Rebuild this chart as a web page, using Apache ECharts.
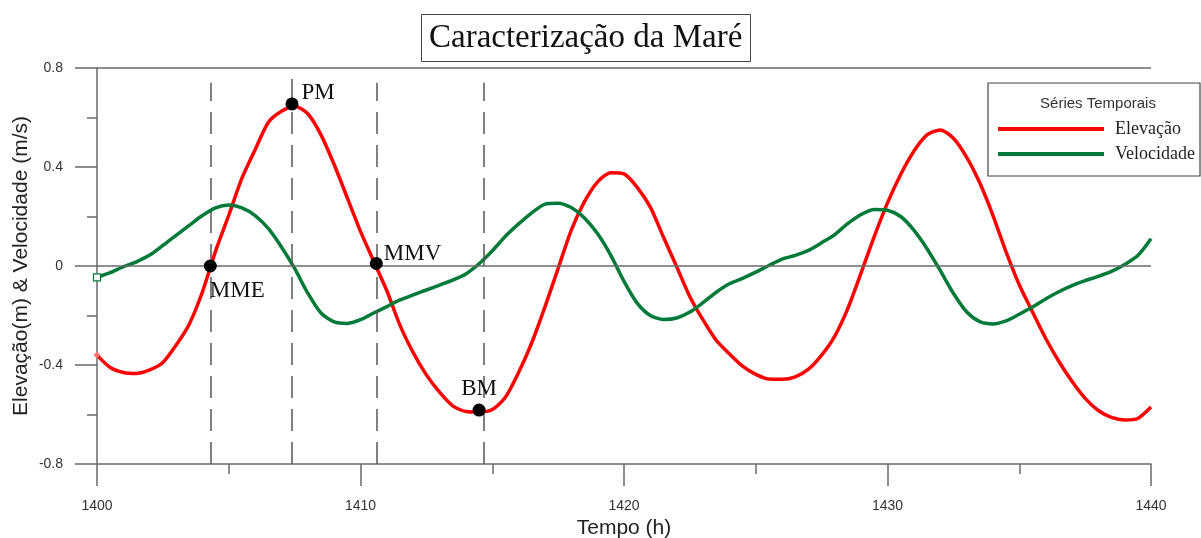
<!DOCTYPE html>
<html>
<head>
<meta charset="utf-8">
<script src="https://cdn.jsdelivr.net/npm/echarts@6/dist/echarts.min.js"></script>
<style>
html,body{margin:0;padding:0;background:#fff;}
#chart{width:1201px;height:538px;}
</style>
</head>
<body>
<div id="chart"></div>
<script>
// ---- data ----
const hours = Array.from({length: 81}, (_, i) => 1400 + i * 0.5);
const elevacao = [
  -0.36, -0.41, -0.43, -0.434, -0.42, -0.39, -0.32, -0.235, -0.105, 0.06,
  0.205, 0.355, 0.47, 0.58, 0.625, 0.645, 0.615, 0.53, 0.41, 0.275,
  0.14, 0.02, -0.10, -0.24, -0.35, -0.44, -0.51, -0.565, -0.588, -0.59,
  -0.58, -0.53, -0.43, -0.31, -0.165, -0.01, 0.145, 0.26, 0.34, 0.377,
  0.372, 0.318, 0.238, 0.116, -0.003, -0.124, -0.218, -0.30, -0.355, -0.405,
  -0.438, -0.457, -0.458, -0.448, -0.417, -0.36, -0.283, -0.17, -0.027, 0.12,
  0.255, 0.37, 0.464, 0.53, 0.55, 0.516, 0.44, 0.336, 0.205, 0.057,
  -0.076, -0.185, -0.292, -0.385, -0.466, -0.535, -0.584, -0.612, -0.622, -0.616,
  -0.57
];
const velocidade = [
  -0.046, -0.027, -0.003, 0.017, 0.044, 0.083, 0.124, 0.164, 0.204, 0.235,
  0.246, 0.235, 0.204, 0.152, 0.077, -0.01, -0.11, -0.19, -0.226, -0.232,
  -0.217, -0.19, -0.164, -0.137, -0.117, -0.097, -0.077, -0.057, -0.032, 0.009,
  0.061, 0.12, 0.17, 0.215, 0.25, 0.254, 0.236, 0.194, 0.13, 0.043,
  -0.062, -0.15, -0.2, -0.216, -0.21, -0.186, -0.148, -0.106, -0.072, -0.05,
  -0.025, 0.002, 0.028, 0.043, 0.063, 0.094, 0.127, 0.172, 0.208, 0.228,
  0.225, 0.2, 0.145, 0.07, -0.018, -0.11, -0.185, -0.225, -0.234, -0.222,
  -0.195, -0.166, -0.133, -0.104, -0.079, -0.059, -0.042, -0.022, 0.006, 0.042,
  0.11
];
const pointNames = ['MME', 'PM', 'MMV', 'BM'];
const pointTimes = [1404.3, 1407.4, 1410.6, 1414.5];
const pointValues = [0, 0.655, 0.01, -0.582];
const dashTimes = [1404.3, 1407.4, 1410.63, 1414.68];
const dashTops = [0.74, 0.8, 0.74, 0.74];
const xTicks = [1400, 1410, 1420, 1430, 1440];
const yTicks = [-0.8, -0.4, 0, 0.4, 0.8];

// ---- chart ----
const chart = echarts.init(document.getElementById('chart'));
const axisColor = '#6a6a6a';
const sans = '"Liberation Sans", Arial, sans-serif';
const serif = '"Liberation Serif", "Times New Roman", serif';

const labelCfg = {
  MME: {position: 'right', offset: [-12, 25]},
  PM: {position: 'right', offset: [-2, -11]},
  MMV: {position: 'right', offset: [-4, -10]},
  BM: {position: 'top', offset: [0, 2]}
};

const option = {
  animation: false,
  backgroundColor: '#fff',
  title: {
    text: 'Caracterização da Maré',
    left: 421, top: 14,
    padding: [6, 8, 6, 8],
    borderColor: '#444', borderWidth: 1,
    textStyle: {fontFamily: serif, fontSize: 33, fontWeight: 'normal', color: '#111', lineHeight: 36}
  },
  legend: {
    data: ['Elevação', 'Velocidade'],
    orient: 'vertical',
    left: 993, top: 114,
    itemWidth: 106, itemHeight: 4,
    itemGap: 5,
    icon: 'rect',
    textStyle: {fontFamily: serif, fontSize: 18, color: '#222', lineHeight: 20, padding: [0, 0, 0, 6]}
  },
  graphic: [
    {type: 'rect', shape: {x: 988, y: 83, width: 212, height: 93}, style: {fill: '#fff', stroke: '#444', lineWidth: 1.2}, z: 0},
    {type: 'text', x: 1098, y: 104, style: {text: 'Séries Temporais', font: '15px "Liberation Sans", Arial, sans-serif', fill: '#333', textAlign: 'center', textVerticalAlign: 'middle'}, z: 1}
  ],
  grid: {left: 97, right: 50, top: 68, bottom: 74, outerBoundsMode: 'none', containLabel: false},
  xAxis: {
    type: 'value', min: xTicks[0], max: xTicks[xTicks.length - 1], interval: 10,
    name: 'Tempo (h)', nameLocation: 'middle', nameGap: 52,
    nameTextStyle: {fontFamily: sans, fontSize: 21, color: '#222'},
    axisLine: {onZero: false, lineStyle: {color: axisColor, width: 1.5}},
    axisTick: {show: true, length: 22, lineStyle: {color: axisColor, width: 1.5}},
    minorTick: {show: true, splitNumber: 2, length: 10, lineStyle: {color: axisColor, width: 1.5}},
    axisLabel: {margin: 35, fontFamily: sans, fontSize: 14, color: '#333', formatter: v => String(v)},
    splitLine: {show: false}
  },
  yAxis: {
    type: 'value', min: yTicks[0], max: yTicks[yTicks.length - 1], interval: 0.4,
    name: 'Elevação(m) & Velocidade (m/s)', nameLocation: 'middle', nameGap: 65,
    nameMoveOverlap: false,
    nameTextStyle: {fontFamily: sans, fontSize: 21, color: '#222'},
    axisLine: {show: true, lineStyle: {color: axisColor, width: 1.5}},
    axisTick: {show: true, length: 22, lineStyle: {color: axisColor, width: 1.5}},
    minorTick: {show: true, splitNumber: 2, length: 10, lineStyle: {color: axisColor, width: 1.5}},
    axisLabel: {margin: 34, fontFamily: sans, fontSize: 14, color: '#333', formatter: v => String(Math.round(v * 10) / 10)},
    splitLine: {show: false}
  },
  series: [
    {
      name: 'guides', type: 'line', data: [], z: 1, silent: true,
      markLine: {
        silent: true, symbol: ['none', 'none'], label: {show: false},
        animation: false,
        data: [
          [{coord: [xTicks[0], 0], lineStyle: {type: 'solid', color: axisColor, width: 1.5}}, {coord: [xTicks[xTicks.length - 1], 0]}],
          [{coord: [xTicks[0], yTicks[yTicks.length - 1]], lineStyle: {type: 'solid', color: axisColor, width: 1.5}}, {coord: [xTicks[xTicks.length - 1], yTicks[yTicks.length - 1]]}]
        ].concat(dashTimes.map((t, i) => [
          {coord: [t, yTicks[0]], lineStyle: {type: [22, 11], color: '#555', width: 1.5}},
          {coord: [t, dashTops[i]]}
        ]))
      }
    },
    {
      name: 'Elevação', type: 'line', color: '#ff0000', z: 3,
      data: hours.map((t, i) => [t, elevacao[i]]),
      showSymbol: false, smooth: 0.25,
      lineStyle: {width: 3.5, color: '#ff0000'}
    },
    {
      name: 'Velocidade', type: 'line', color: '#007a3a', z: 3,
      data: hours.map((t, i) => [t, velocidade[i]]),
      showSymbol: false, smooth: 0.25,
      lineStyle: {width: 3.5, color: '#007a3a'}
    },
    {
      name: 'start', type: 'scatter', z: 4, silent: true,
      data: [
        {value: [hours[0], elevacao[0]], symbol: 'diamond', symbolSize: 7, itemStyle: {color: '#ff7070', opacity: 1}},
        {value: [hours[0], velocidade[0]], symbol: 'rect', symbolSize: 7, itemStyle: {color: '#fff', borderColor: '#007a3a', borderWidth: 1.2, opacity: 1}}
      ]
    },
    {
      name: 'pontos', type: 'scatter', z: 5, symbolSize: 13,
      itemStyle: {color: '#000', opacity: 1},
      data: pointNames.map((n, i) => ({
        name: n, value: [pointTimes[i], pointValues[i]],
        label: Object.assign({show: true, formatter: n, fontFamily: serif, fontSize: 23, color: '#111', distance: 5}, labelCfg[n])
      }))
    }
  ]
};
chart.setOption(option);
</script>
</body>
</html>
